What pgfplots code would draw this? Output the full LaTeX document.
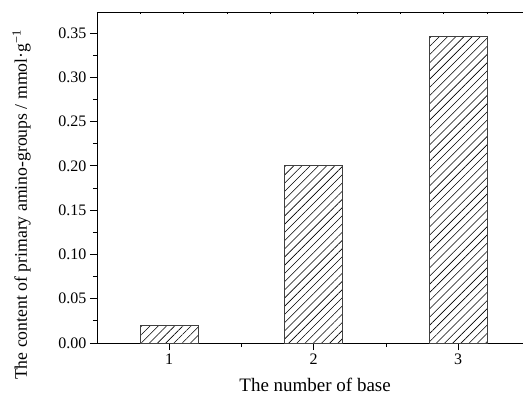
\documentclass[border=0pt]{standalone}
\usepackage{fontspec}
\setmainfont{Liberation Serif}
\usepackage{pgfplots}
\pgfplotsset{compat=1.18}
\usetikzlibrary{patterns.meta}
\begin{document}
\begin{tikzpicture}
\begin{axis}[
  scale only axis, width=427.7pt, height=331pt,
  xmin=0.5, xmax=3.46, ymin=0, ymax=0.3737,
  xtick={1,2,3}, minor x tick num=1, xtick pos=bottom,
  ytick={0,0.05,0.10,0.15,0.20,0.25,0.30,0.35}, minor y tick num=1, ytick pos=left,
  tick align=outside,
  major tick length=7pt, minor tick length=4pt,
  axis line style={black, line width=0.8pt},
  every tick/.style={black, line width=0.8pt},
  /pgf/number format/assume math mode=true,
  yticklabel style={/pgf/number format/.cd, fixed, fixed zerofill, precision=2},
  ticklabel style={font=\fontsize{16}{16}\selectfont},
  xlabel={The number of base},
  ylabel={The content of primary amino-groups / mmol·g\textsuperscript{−1}},
  xlabel style={font=\fontsize{19}{19}\selectfont, at={(axis description cs:0.51,0)}, anchor=base, yshift=-48pt},
  ylabel style={font=\fontsize{17.7}{17.7}\selectfont, at={(axis description cs:0,0.417)}, anchor=base, yshift=70pt},
  ybar, bar width=0.4,
]
\addplot[draw=black!75, line width=0.8pt, pattern={Lines[angle=45,distance=5.8pt,line width=0.6pt]}, pattern color=black]
  coordinates {(1,0.020) (2,0.200) (3,0.346)};
\coordinate (O) at (rel axis cs:0,0);
\end{axis}
\begin{axis}[
  scale only axis, width=427.7pt, height=331pt,
  xmin=0.5, xmax=3.46, ymin=0, ymax=0.3737,
  axis x line*=top, axis y line=none,
  xtick={0.8,1.1,1.4,1.7,2.0,2.3,2.6,2.9,3.2}, xticklabels={},
  tick align=inside, major tick length=2.5pt,
  axis line style={black, line width=0.8pt},
  every tick/.style={black, line width=0.8pt},
]
\end{axis}
\pgfresetboundingbox
\path (O) ++(-97pt,-51pt) rectangle ++(523pt,394pt);
\end{tikzpicture}
\end{document}
